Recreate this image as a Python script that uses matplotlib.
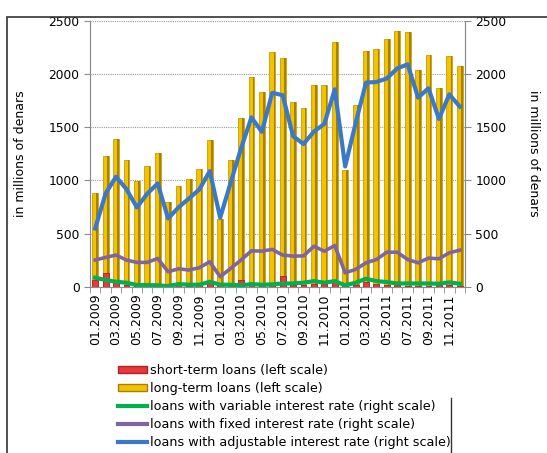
import numpy as np
import matplotlib
matplotlib.use("Agg")
import matplotlib.pyplot as plt
from matplotlib.lines import Line2D
from matplotlib.patches import Rectangle

# Monthly data 01.2009 - 12.2011, in millions of denars
months = [f"{m:02d}.{y}" for y in (2009, 2010, 2011) for m in range(1, 13)]

short_term = [60, 125, 50, 15, 10, 10, 12, 8, 20, 10, 15, 40,
              15, 10, 65, 15, 15, 12, 100, 15, 20, 30, 25, 45,
              15, 20, 45, 30, 15, 12, 10, 10, 10, 12, 15, 10]
long_term = [885, 1228, 1385, 1194, 996, 1137, 1256, 793, 943, 1015, 1106, 1375,
             640, 1194, 1588, 1968, 1827, 2209, 2149, 1739, 1676, 1897, 1897, 2297,
             1100, 1709, 2219, 2231, 2328, 2409, 2391, 2041, 2181, 1869, 2169, 2078]
variable_rate = [85, 63, 47, 38, 16, 16, 13, 6, 25, 19, 19, 47,
                 19, 19, 13, 25, 19, 22, 31, 31, 38, 53, 38, 53,
                 13, 38, 75, 53, 44, 31, 31, 31, 31, 28, 41, 28]
fixed_rate = [251, 276, 298, 251, 229, 229, 266, 141, 169, 157, 179, 235,
              94, 172, 251, 338, 335, 351, 298, 288, 290, 381, 334, 388,
              131, 163, 225, 256, 325, 325, 256, 225, 269, 263, 319, 344]
adjustable_rate = [548, 877, 1034, 918, 746, 875, 971, 642, 746, 830, 915, 1087,
                   649, 977, 1300, 1592, 1457, 1823, 1801, 1416, 1342, 1459, 1531, 1856,
                   1131, 1537, 1919, 1925, 1959, 2053, 2091, 1778, 1866, 1578, 1809, 1694]

x = np.arange(len(months))

fig = plt.figure(figsize=(5.47, 4.53), dpi=100)
ax = fig.add_axes([0.1645, 0.367, 0.6855, 0.587])
ax2 = ax.twinx()

# outer frame of the chart area
fig.patches.append(Rectangle((7 / 547, -0.1), 1.2, 1.1 - 17 / 453, transform=fig.transFigure,
                             fill=False, edgecolor="#333333", linewidth=1.2))
fig.add_artist(Line2D([451 / 547, 451 / 547], [0, 55 / 453], transform=fig.transFigure,
                      color="#333333", linewidth=1))

w = 0.56
ax.bar(x, long_term, width=w, color="#F2C200", edgecolor="#C99D00", linewidth=0.6, zorder=2)
ax.bar(x + w / 2 - 0.08, long_term, width=0.16, color="#A88000", linewidth=0, zorder=2)
ax.bar(x, short_term, width=w, color="#E8383D", edgecolor="#B02025", linewidth=0.6, zorder=3)

ax2.plot(x, variable_rate, color="#00B050", linewidth=3, solid_joinstyle="round")
ax2.plot(x, fixed_rate, color="#8064A2", linewidth=2.6, solid_joinstyle="round")
ax2.plot(x, adjustable_rate, color="#3A78C8", linewidth=3, solid_joinstyle="round")

for a in (ax, ax2):
    a.set_ylim(0, 2500)
    a.set_yticks(range(0, 2501, 500))
    a.set_xlim(-0.5, len(months) - 0.5)
    for s in a.spines.values():
        s.set_color("#8c8c8c")
    a.spines["top"].set_visible(False)
    a.tick_params(axis="y", labelsize=8.8, colors="#8c8c8c", labelcolor="black", length=4)

ax.yaxis.grid(True, linestyle=(0, (1, 1)), color="#9a9a9a", linewidth=0.8)
ax.set_axisbelow(True)

ax.set_xticks(x[::2])
ax.set_xticklabels(months[::2], rotation=90, fontsize=9)
ax.tick_params(axis="x", which="major", length=0, pad=5)
ax.set_xticks(np.arange(-0.5, len(months)), minor=True)
ax.tick_params(axis="x", which="minor", length=4, color="#8c8c8c")

ax.set_ylabel("in millions of denars", fontsize=9)
ax2.set_ylabel("in millions of denars", fontsize=9, rotation=-90)
ax.yaxis.set_label_coords(-0.168, 0.5)
ax2.yaxis.set_label_coords(1.2, 0.5)

handles = [
    Rectangle((0, 0), 1, 1, facecolor="#E8383D", edgecolor="#B02025"),
    Rectangle((0, 0), 1, 1, facecolor="#F2C200", edgecolor="#A88000"),
    Line2D([], [], color="#00B050", linewidth=3),
    Line2D([], [], color="#8064A2", linewidth=3),
    Line2D([], [], color="#3A78C8", linewidth=3),
]
labels = [
    "short-term loans (left scale)",
    "long-term loans (left scale)",
    "loans with variable interest rate (right scale)",
    "loans with fixed interest rate (right scale)",
    "loans with adjustable interest rate (right scale)",
]
fig.legend(handles, labels, loc="upper left", bbox_to_anchor=(0.216, 0.196),
           frameon=False, fontsize=9.2, handlelength=2.27, handleheight=0.45,
           handletextpad=0.2, labelspacing=0.39, borderpad=0, borderaxespad=0)

fig.savefig("out.png", dpi=100)
